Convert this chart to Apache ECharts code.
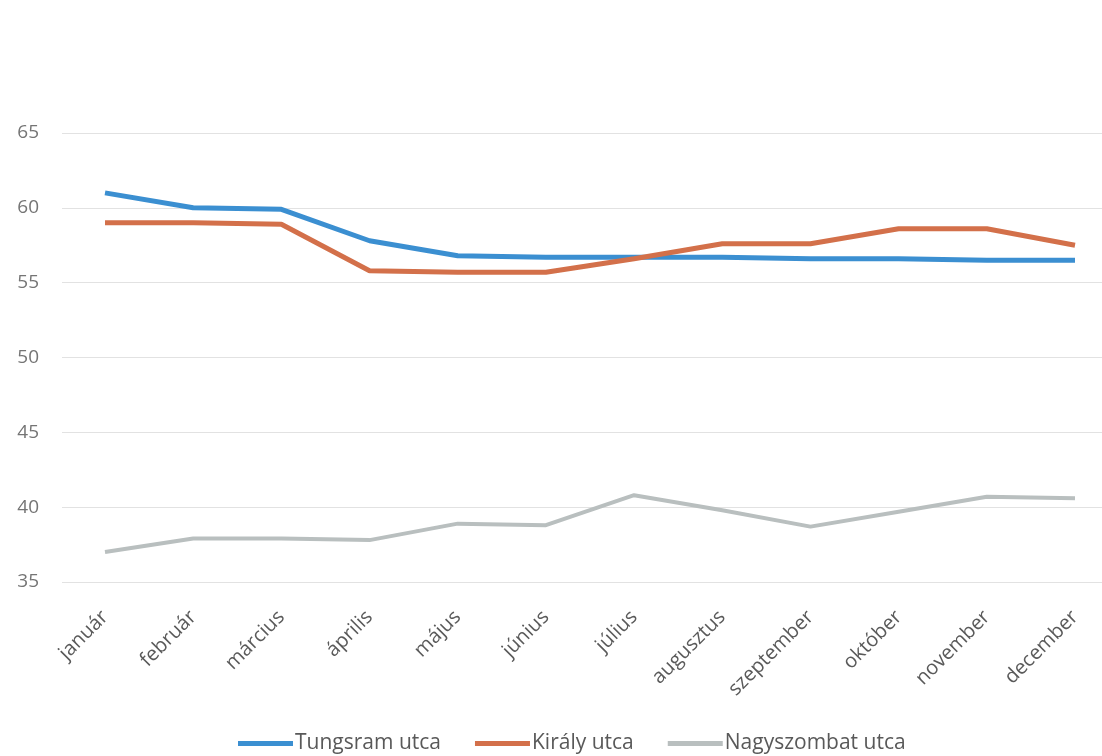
<!DOCTYPE html>
<html>
<head>
<meta charset="utf-8">
<script src="https://cdn.jsdelivr.net/npm/echarts@6/dist/echarts.min.js"></script>
<style>html,body{margin:0;padding:0;background:#fff}#c{width:1102px;height:756px}</style>
</head>
<body>
<div id="c"></div>
<script>
const months = ['január','február','március','április','május','június','július','augusztus','szeptember','október','november','december'];
const tungsram = [61, 60, 59.9, 57.8, 56.8, 56.7, 56.7, 56.7, 56.6, 56.6, 56.5, 56.5];
const kiraly = [59, 59, 58.9, 55.8, 55.7, 55.7, 56.6, 57.6, 57.6, 58.6, 58.6, 57.5];
const nagyszombat = [37, 37.9, 37.9, 37.8, 38.9, 38.8, 40.8, 39.8, 38.7, 39.7, 40.7, 40.6];
const yTicks = [35, 40, 45, 50, 55, 60, 65];

const chart = echarts.init(document.getElementById('c'));
const font = '"Open Sans", Lato, sans-serif';
const yMin = yTicks[0], yMax = yTicks[yTicks.length - 1];
chart.setOption({
  animation: false,
  backgroundColor: '#fff',
  grid: [
    { left: 105, right: 27, top: 133, bottom: 174, containLabel: false },
    { left: 62, right: 0, top: 133, bottom: 174, containLabel: false }
  ],
  legend: {
    bottom: -3, left: 233,
    icon: 'rect', itemWidth: 55, itemHeight: 5, itemGap: 34,
    textStyle: { fontFamily: font, fontSize: 21, color: '#595959', padding: [0, 0, 0, -3] },
    data: ['Tungsram utca', 'Király utca', 'Nagyszombat utca']
  },
  xAxis: [
    {
      type: 'category', data: months, boundaryGap: false, gridIndex: 0,
      axisLine: { show: false }, axisTick: { show: false }, splitLine: { show: false },
      axisLabel: { rotate: 45, fontFamily: font, fontSize: 20, color: '#5a5a5a', margin: 32, interval: 0 }
    },
    { type: 'value', gridIndex: 1, show: false }
  ],
  yAxis: [
    {
      type: 'value', gridIndex: 0, min: yMin, max: yMax, interval: 5,
      axisLine: { show: false }, axisTick: { show: false }, axisLabel: { show: false }, splitLine: { show: false }
    },
    {
      type: 'value', gridIndex: 1, min: yMin, max: yMax, interval: 5,
      axisLine: { show: false }, axisTick: { show: false },
      axisLabel: { fontFamily: font, fontSize: 19, color: '#757575', margin: 23 },
      splitLine: { lineStyle: { color: '#e2e2e2', width: 1 } }
    }
  ],
  series: [
    { name: 'Tungsram utca', type: 'line', data: tungsram, symbol: 'none', lineStyle: { width: 5, color: '#3b8fd1' }, itemStyle: { color: '#3b8fd1' }, z: 3 },
    { name: 'Király utca', type: 'line', data: kiraly, symbol: 'none', lineStyle: { width: 5, color: '#d3704a' }, itemStyle: { color: '#d3704a' }, z: 4 },
    { name: 'Nagyszombat utca', type: 'line', data: nagyszombat, symbol: 'none', lineStyle: { width: 4, color: '#b9bfbf' }, itemStyle: { color: '#b9bfbf' }, z: 2 }
  ]
});
</script>
</body>
</html>
